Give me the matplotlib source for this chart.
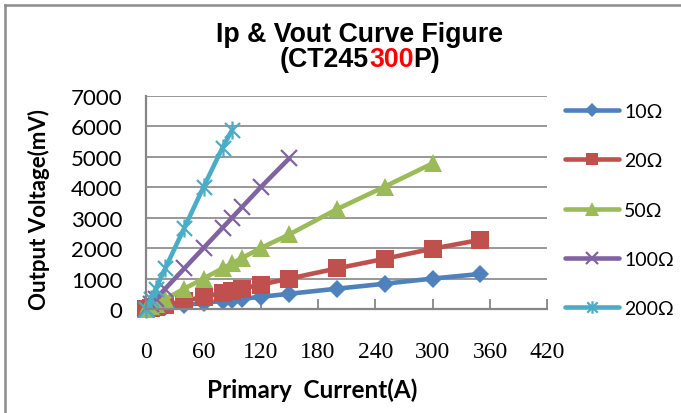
import matplotlib
matplotlib.use("Agg")
import matplotlib.pyplot as plt
from matplotlib.path import Path
from matplotlib.lines import Line2D

# ---- data ----
series_names = ["10Ω", "20Ω", "50Ω", "100Ω", "200Ω"]
current_10 = [0, 5, 10, 20, 40, 60, 80, 90, 100, 120, 150, 200, 250, 300, 350]
vout_10 = [0, 17, 33, 67, 133, 200, 267, 300, 333, 400, 500, 667, 830, 1000, 1150]
current_20 = [0, 5, 10, 20, 40, 60, 80, 90, 100, 120, 150, 200, 250, 300, 350]
vout_20 = [0, 33, 67, 133, 267, 400, 533, 600, 667, 800, 1000, 1333, 1650, 1980, 2270]
current_50 = [0, 5, 10, 20, 40, 60, 80, 90, 100, 120, 150, 200, 250, 300]
vout_50 = [0, 83, 167, 333, 667, 1000, 1333, 1500, 1667, 2000, 2450, 3280, 4020, 4780]
current_100 = [0, 5, 10, 20, 40, 60, 80, 90, 100, 120, 150]
vout_100 = [0, 167, 333, 667, 1333, 2000, 2667, 3000, 3333, 4000, 4950]
current_200 = [0, 5, 10, 20, 40, 60, 80, 90]
vout_200 = [0, 333, 667, 1333, 2667, 4000, 5300, 5880]

x_ticks = [0, 60, 120, 180, 240, 300, 360, 420]
y_ticks = [0, 1000, 2000, 3000, 4000, 5000, 6000, 7000]

colors = ["#4F81BD", "#C0504D", "#9BBB59", "#8064A2", "#4BACC6"]

# Excel-like star marker: X plus vertical bar
star = Path([(-0.5, -0.5), (0.5, 0.5), (-0.5, 0.5), (0.5, -0.5), (0, -0.6), (0, 0.6)],
            [Path.MOVETO, Path.LINETO, Path.MOVETO, Path.LINETO, Path.MOVETO, Path.LINETO])

W, H = 681, 414
fig = plt.figure(figsize=(W / 100, H / 100), dpi=100)
ax = fig.add_axes([146.2 / W, 104 / H, 401.1 / W, 213.3 / H])

styles = [
    dict(marker="D", ms=9.5, mew=0),
    dict(marker="s", ms=12.5, mew=0),
    dict(marker="^", ms=13.5, mew=0),
    dict(marker="x", ms=12, mew=1.6),
    dict(marker=star, ms=13, mew=1.6),
]
data = [(current_10, vout_10), (current_20, vout_20), (current_50, vout_50),
        (current_100, vout_100), (current_200, vout_200)]

for (xs, ys), name, c, st in zip(data, series_names, colors, styles):
    ax.plot(xs, ys, color=c, lw=3.3, label=name, mfc=c, mec=c,
            clip_on=False, solid_capstyle="round", **st)

ax.set_xlim(0, 420)
ax.set_ylim(0, 7000)
ax.set_xticks(x_ticks)
ax.set_yticks(y_ticks)
ax.set_xticklabels([str(v) for v in x_ticks], family="Liberation Serif", fontsize=17)
ax.set_yticklabels([str(v) for v in y_ticks], family="Lato", fontsize=16)
ax.tick_params(axis="x", direction="in", length=7, width=1.3, color="#868686", pad=23)
ax.tick_params(axis="y", length=0, pad=17)
ax.grid(axis="y", color="#868686", lw=1.2)
ax.set_axisbelow(True)
for s in ["top", "right"]:
    ax.spines[s].set_visible(False)
for s in ["left", "bottom"]:
    ax.spines[s].set_color("#868686")
    ax.spines[s].set_linewidth(1.6)

ax.set_xlabel("Primary  Current(A)", family="Lato", fontweight="bold", fontsize=17.5,
              va="center", ha="center")
ax.xaxis.set_label_coords((312.5 - 146.2) / 401.1, -(390 - 310) / 213.3)
ax.set_ylabel("Output Voltage(mV)", family="Lato", fontweight="bold", fontsize=16,
              va="center", ha="center")
ax.yaxis.set_label_coords(-(146.2 - 39) / 401.1, (310 - 210) / 213.3)

# title
fig.text(360 / W, 1 - 35 / H, "Ip & Vout Curve Figure", family="Liberation Sans",
         fontweight="bold", fontsize=19.3, ha="center", va="center")
parts = [("(CT245", "black"), ("300", "#FF0000"), ("P)", "black")]
texts = [fig.text(0, 1 - 60 / H, p, family="Liberation Sans", fontweight="bold",
                  fontsize=19.3, color=c, ha="left", va="center") for p, c in parts]
fig.canvas.draw()
r = fig.canvas.get_renderer()
widths = [t.get_window_extent(r).width for t in texts]
x0 = 360 - sum(widths) / 2
for t, w in zip(texts, widths):
    t.set_x(x0 / W)
    x0 += w

leg = fig.legend(loc="upper left", bbox_to_anchor=(565 / W, 1 - 104 / H), frameon=False,
                 prop=dict(family="Lato", size=14), handlelength=2.8, handletextpad=0.25,
                 labelspacing=1.66, borderpad=0, borderaxespad=0)
for h in leg.legend_handles:
    if h.get_marker() == "s":
        h.set_markersize(9)
    elif h.get_marker() == "^":
        h.set_markersize(10)
    elif h.get_marker() == "D":
        h.set_markersize(7)
    else:
        h.set_markersize(9)

# outer chart border (left and top visible)
fig.add_artist(Line2D([4.5 / W, 4.5 / W], [0, 1 - 5.5 / H], color="#8C8C8C", lw=1.8,
                      transform=fig.transFigure))
fig.add_artist(Line2D([4.5 / W, 1], [1 - 5.5 / H, 1 - 5.5 / H], color="#8C8C8C", lw=1.8,
                      transform=fig.transFigure))

fig.savefig("out.png", dpi=100)
